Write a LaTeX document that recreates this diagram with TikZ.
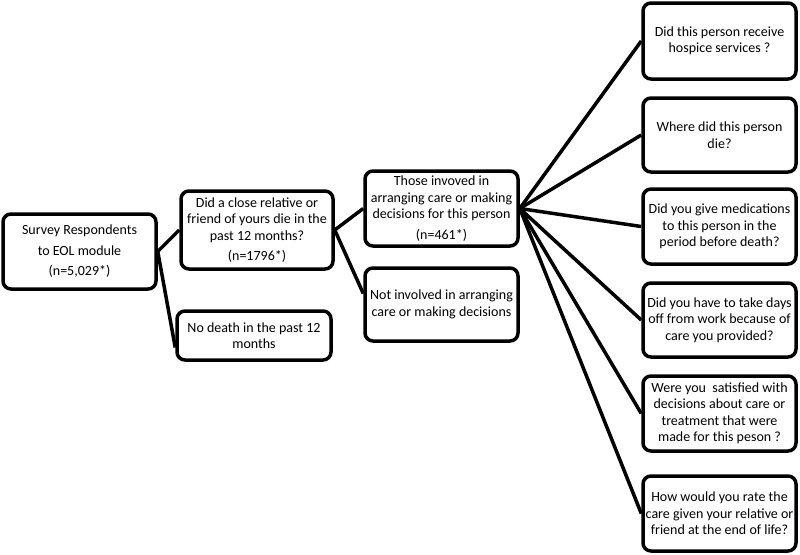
\documentclass[tikz,border=0pt]{standalone}
\usepackage{fontspec}
\setmainfont{Carlito}
\usetikzlibrary{calc}
\tikzset{
  qbox/.style={draw=black, line width=3.5pt, rounded corners=8pt, align=center,
    inner sep=0pt, font=\fontsize{14}{16.5}\selectfont},
  link/.style={draw=black, line width=3.5pt}
}
\begin{document}
\begin{tikzpicture}[x=1pt,y=-1pt]
\useasboundingbox (0,0) rectangle (800,554);
\node[qbox, minimum width=153pt, minimum height=75pt] (A) at (79.5,251.5)
  {Survey Respondents\\[4pt]to EOL module\\[4pt](n=5,029*)};
\node[qbox, minimum width=152pt, minimum height=78pt] (B) at (257,230)
  {Did a close relative or\\friend of yours die in the\\past 12 months?\\[4pt](n=1796*)};
\node[qbox, minimum width=154pt, minimum height=49pt] (C) at (254,335.5)
  {No death in the past 12\\months};
\node[qbox, minimum width=153pt, minimum height=75pt] (D) at (441.5,208.5)
  {Those invoved in\\arranging care or making\\decisions for this person\\[4pt](n=461*)};
\node[qbox, minimum width=153pt, minimum height=73pt] (E) at (441.5,304.5)
  {Not involved in arranging\\care or making decisions};
\node[qbox, minimum width=153pt, minimum height=76pt] (R1) at (719.5,41)
  {Did this person receive\\hospice services ?};
\node[qbox, minimum width=153pt, minimum height=74pt] (R2) at (719.5,135)
  {Where did this person\\die?};
\node[qbox, minimum width=153pt, minimum height=75pt] (R3) at (719.5,226.5)
  {Did you give medications\\to this person in the\\period before death?};
\node[qbox, minimum width=153pt, minimum height=74pt] (R4) at (719.5,320)
  {Did you have to take days\\off from work because of\\care you provided?};
\node[qbox, minimum width=153pt, minimum height=75pt] (R5) at (719.5,413.5)
  {Were you\ \ satisfied with\\decisions about care or\\treatment that were\\made for this peson ?};
\node[qbox, minimum width=153pt, minimum height=75pt] (R6) at (719.5,513.5)
  {How would you rate the\\care given your relative or\\friend at the end of life?};
\draw[link] (A.east) -- (B.west);
\draw[link] (A.east) -- ($(C.west)+(0,12)$);
\draw[link] (B.east) -- (D.west);
\draw[link] (B.east) -- ($(E.west)+(0,-11)$);
\foreach \r in {R1,R2,R3,R4,R5,R6} \draw[link] (D.east) -- (\r.west);
\end{tikzpicture}
\end{document}
